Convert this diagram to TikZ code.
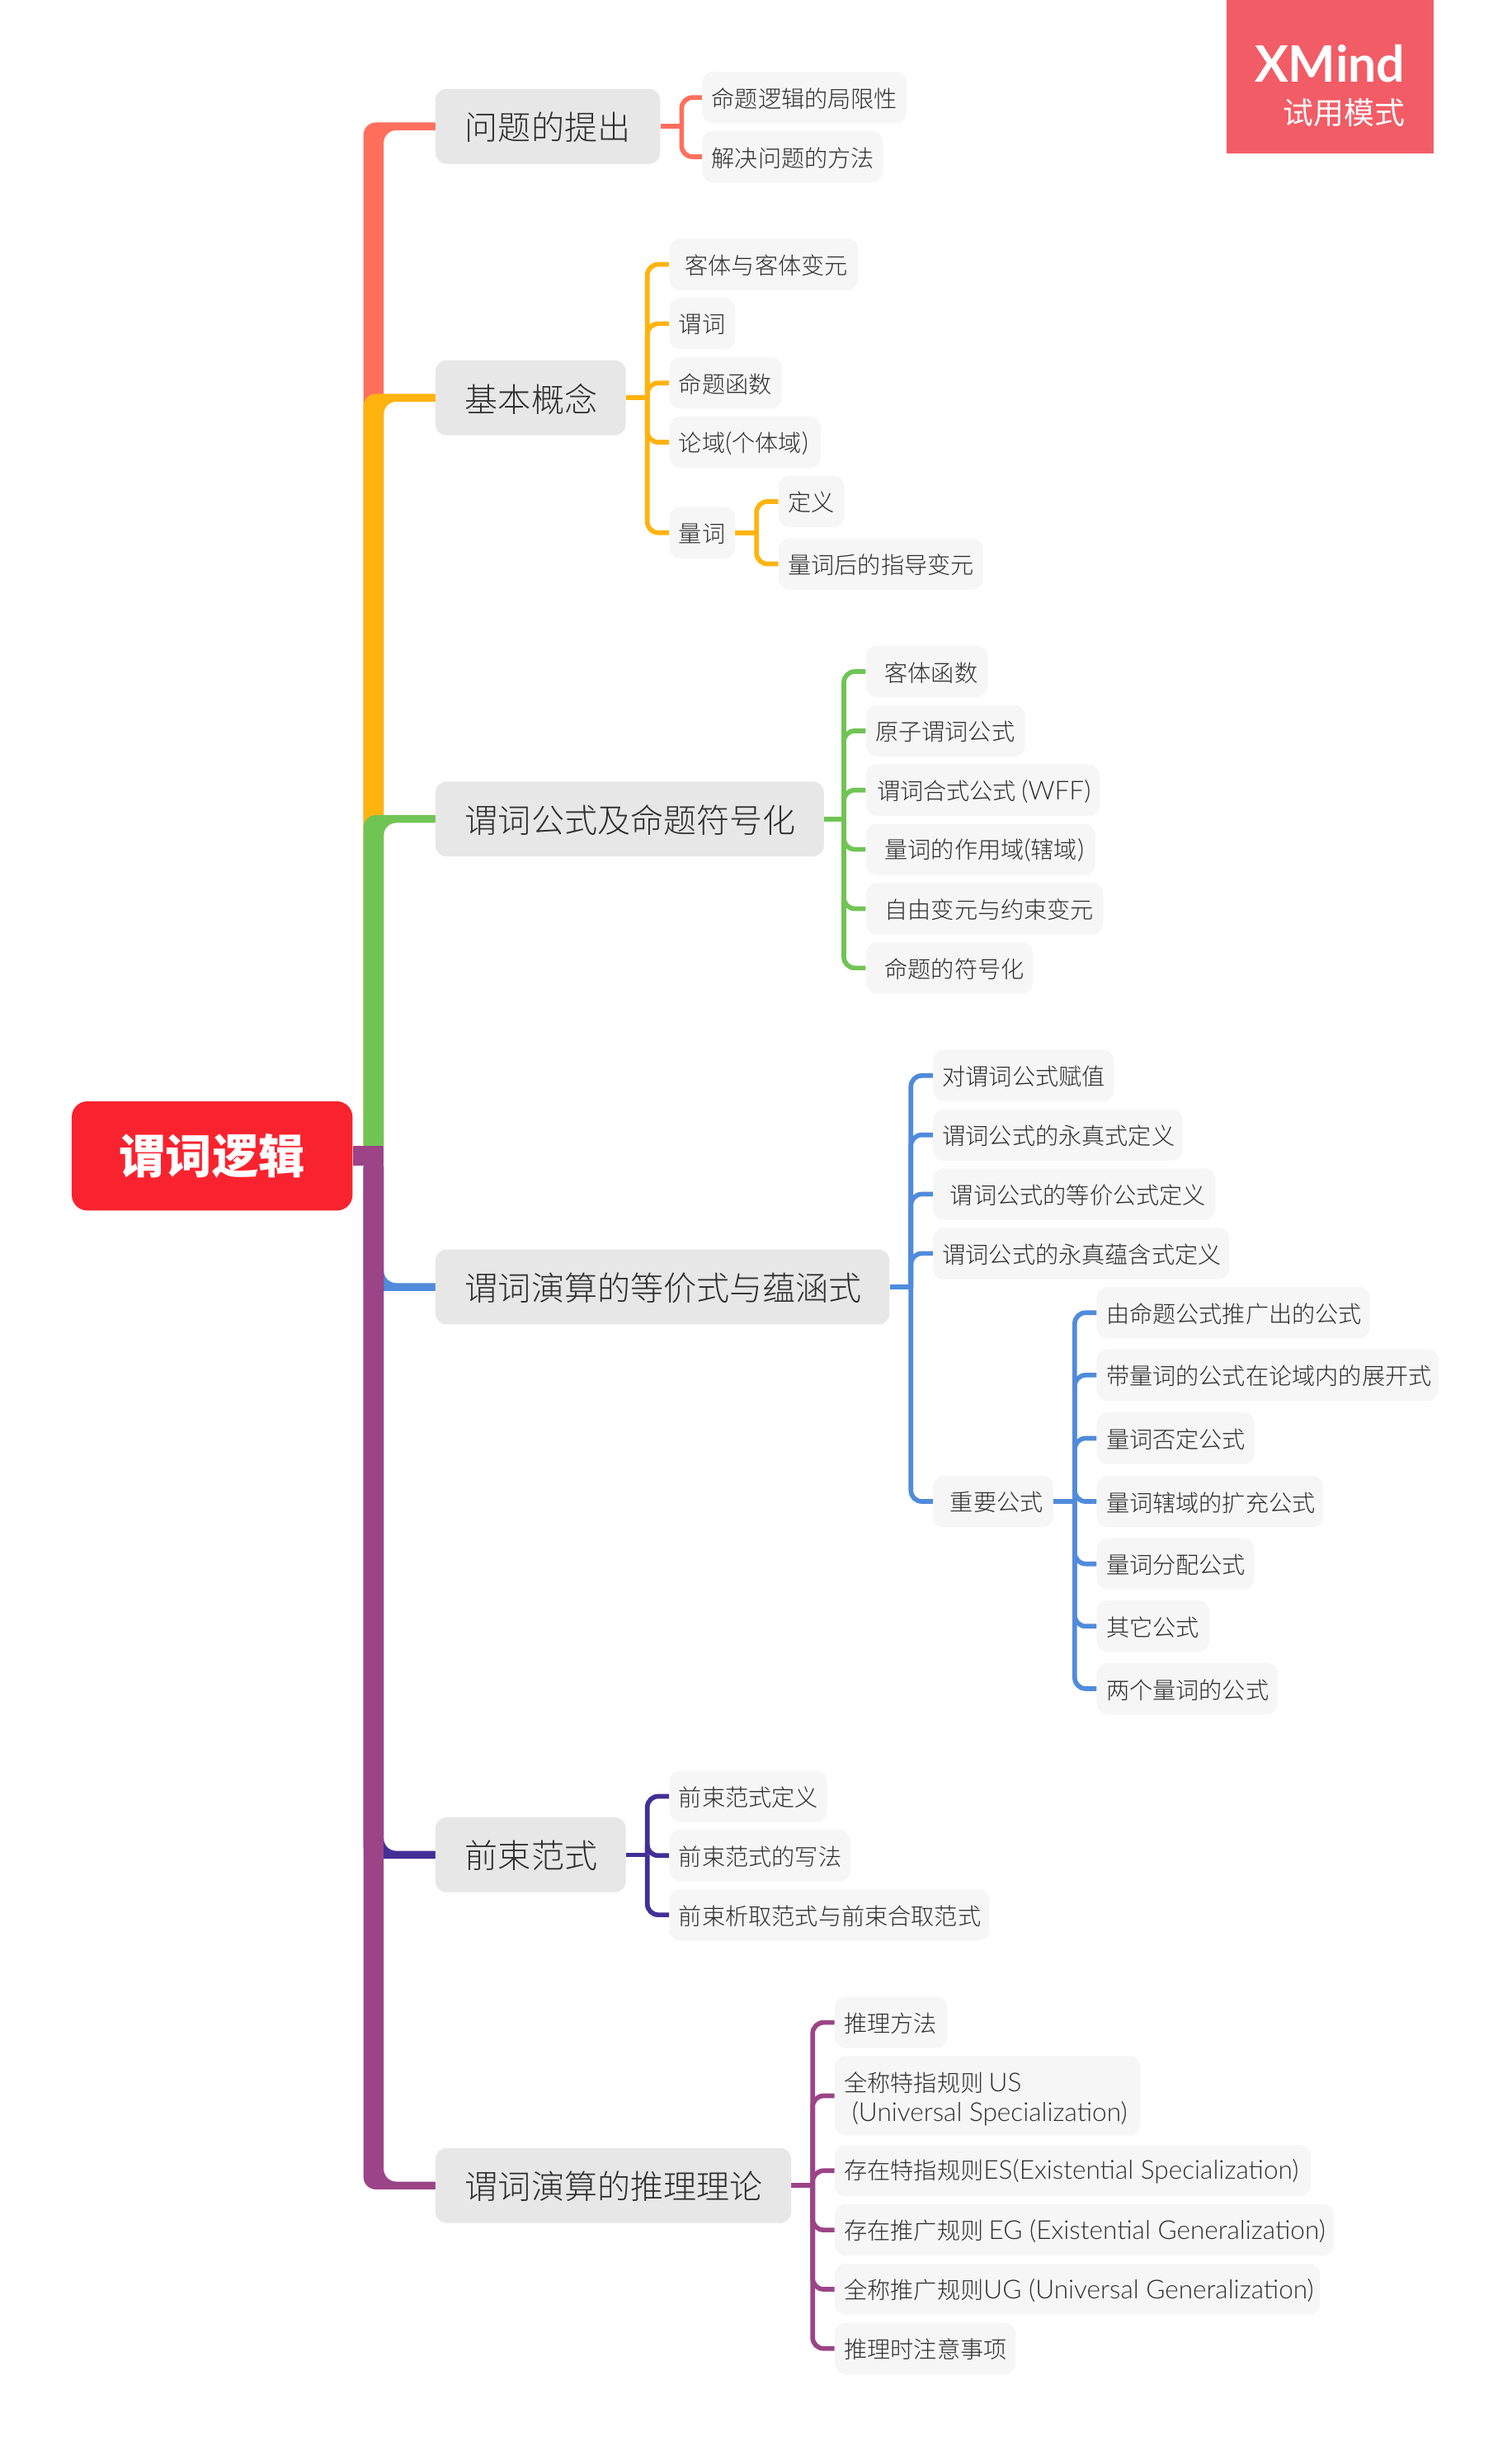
\documentclass[tikz,border=0pt]{standalone}
\usepackage{fontspec}
\setmainfont{Noto Sans CJK SC}[UprightFont=* Light,BoldFont=* Black]
\newfontfamily\cjkreg{Noto Sans CJK SC}
\newfontfamily\latf{Lato}[Scale=1.12,UprightFont=* Light]
\newfontfamily\wmf{Lato}
\newcommand\lat[1]{{\latf #1}}
\usetikzlibrary{calc,backgrounds}
\definecolor{cred}{HTML}{FF6F5C}
\definecolor{corange}{HTML}{FFB30F}
\definecolor{cgreen}{HTML}{70C454}
\definecolor{cblue}{HTML}{508BDB}
\definecolor{cindigo}{HTML}{422F96}
\definecolor{cpurple}{HTML}{9B4487}
\definecolor{ctext}{HTML}{2E2E2E}
\definecolor{cwm}{HTML}{F25C66}
\definecolor{croot}{HTML}{F9232F}
\tikzset{
 leaf/.style={fill=black!3.5,rounded corners=7pt,inner sep=0pt,minimum height=33pt,text=ctext,font=\fontsize{14.9}{19}\selectfont},
 branch/.style={fill=black!9.5,rounded corners=7pt,inner sep=0pt,minimum height=48pt,text=ctext,font=\fontsize{21.2}{26}\selectfont},
 sub/.style={line width=3pt,rounded corners=7pt},
 stub/.style={line width=3pt},
}
\newcommand\boxnode[7][leaf]{\node[#1,anchor=west] (#2) at (#3,#5) {\makebox[\dimexpr#4pt-#3pt\relax][l]{\hspace*{#6pt}\raisebox{-0.7pt}[\height][\depth]{#7}}};}
\newcommand\mainbranch[3]{\fill[#1,rounded corners=8pt] (233,741) -- ($(233,0 |- #2.west)+(0,#3)$) -- ($(#2.west)+(20,#3)$) -- ($(#2.west)+(20,{-1*(#3)})$) -- ($(246,0 |- #2.west)+(0,{-1*(#3)})$) -- (246,741) -- cycle;}
\newcommand\conns[4]{\draw[stub,#1] (#2.east) -- (#3,0 |- #2.east);\foreach \c in {#4}{\draw[sub,#1] (#3,0 |- #2.east) -- (#3,0 |- \c.west) -- (\c.west);}}
\begin{document}
\begin{tikzpicture}[x=1pt,y=-1pt]
\useasboundingbox (0,0) rectangle (969.3,1568);
% watermark
\node[fill=cwm,minimum width=133pt,minimum height=98pt,inner sep=0pt,anchor=north west] (wm) at (786,0) {};
\node[text=white,inner sep=0pt,anchor=east,font=\wmf\bfseries\fontsize{32.2}{40}\selectfont] (wmt) at (901,41) {XMind};
\node[text=white,inner sep=0pt,anchor=east,font=\cjkreg\fontsize{19.5}{24}\selectfont] (wms) at (901,72) {试用模式};
% root
\node[fill=croot,rounded corners=10pt,minimum width=180pt,minimum height=70pt,inner sep=0pt,text=white,font=\bfseries\fontsize{29.8}{36}\selectfont] (root) at (136,741) {谓词逻辑};
% branches
\boxnode[branch]{b1}{279}{423}{81}{19}{问题的提出}
\boxnode[branch]{b2}{279}{401}{255}{19}{基本概念}
\boxnode[branch]{b3}{279}{528}{525}{19}{谓词公式及命题符号化}
\boxnode[branch]{b4}{279}{570}{825}{19}{谓词演算的等价式与蕴涵式}
\boxnode[branch]{b5}{279}{401}{1189}{19}{前束范式}
\boxnode[branch]{b6}{279}{507}{1401}{19}{谓词演算的推理理论}
% leaves b1
\boxnode{a1}{450}{581}{62.5}{6}{命题逻辑的局限性}
\boxnode{a2}{450}{566}{100.5}{6}{解决问题的方法}
% leaves b2
\boxnode{c1}{429}{550}{169.5}{10}{客体与客体变元}
\boxnode{c2}{429}{471}{207.5}{6}{谓词}
\boxnode{c3}{429}{501}{245.5}{6}{命题函数}
\boxnode{c4}{429}{526}{283.5}{6}{论域\lat{(}个体域\lat{)}}
\boxnode{c5}{429}{471}{341.5}{6}{量词}
\boxnode{c6}{499}{541}{321.5}{6}{定义}
\boxnode{c7}{499}{630}{361.5}{6}{量词后的指导变元}
% leaves b3
\boxnode{d1}{555}{633}{430.5}{12}{客体函数}
\boxnode{d2}{555}{657}{468.5}{6}{原子谓词公式}
\boxnode{d3}{555}{705}{506.5}{7}{谓词合式公式 \lat{(WFF)}}
\boxnode{d4}{555}{702}{544.5}{12}{量词的作用域\lat{(}辖域\lat{)}}
\boxnode{d5}{555}{707}{582.5}{12}{自由变元与约束变元}
\boxnode{d6}{555}{662}{620.5}{12}{命题的符号化}
% leaves b4
\boxnode{e1}{598}{714}{689.5}{6}{对谓词公式赋值}
\boxnode{e2}{598}{758}{727.5}{6}{谓词公式的永真式定义}
\boxnode{e3}{598}{779}{765.5}{11}{谓词公式的等价公式定义}
\boxnode{e4}{598}{788}{803.5}{6}{谓词公式的永真蕴含式定义}
\boxnode{e5}{598}{675}{962.5}{11}{重要公式}
\boxnode{f1}{703}{878}{841.5}{6}{由命题公式推广出的公式}
\boxnode{f2}{703}{922}{881.5}{6}{带量词的公式在论域内的展开式}
\boxnode{f3}{703}{804}{922}{6}{量词否定公式}
\boxnode{f4}{703}{848}{962.5}{6}{量词辖域的扩充公式}
\boxnode{f5}{703}{804}{1002.5}{6}{量词分配公式}
\boxnode{f6}{703}{775}{1042.5}{6}{其它公式}
\boxnode{f7}{703}{819}{1082.5}{6}{两个量词的公式}
% leaves b5
\boxnode{g1}{429}{530}{1151.5}{6}{前束范式定义}
\boxnode{g2}{429}{545}{1189.5}{6}{前束范式的写法}
\boxnode{g3}{429}{634}{1227.5}{6}{前束析取范式与前束合取范式}
% leaves b6
\boxnode{h1}{535}{607}{1296.5}{6}{推理方法}
\boxnode[leaf,minimum height=51pt]{h2}{535}{731}{1343.5}{6}{\raisebox{-1.3pt}[\height][\depth]{\parbox[c]{190pt}{\baselineskip=19pt 全称特指规则 \lat{US}\\\hspace*{5pt}\lat{(Universal Specialization)}}}}
\boxnode{h3}{535}{840}{1391.5}{6}{存在特指规则\lat{ES(Existential Specialization)}}
\boxnode{h4}{535}{855}{1429.5}{6}{存在推广规则 \lat{EG (Existential Generalization)}}
\boxnode{h5}{535}{846}{1467.5}{6}{全称推广规则\lat{UG (Universal Generalization)}}
\boxnode{h6}{535}{651}{1505.5}{6}{推理时注意事项}
\begin{scope}[on background layer]
\fill[white] (0,0) rectangle (969.3,1568);
\mainbranch{cred}{b1}{-2.5}
\mainbranch{corange}{b2}{-2.5}
\mainbranch{cgreen}{b3}{-2.5}
\mainbranch{cblue}{b4}{2.5}
\mainbranch{cindigo}{b5}{2.5}
\mainbranch{cpurple}{b6}{2.5}
\fill[cpurple] (root.east |- 0,734.5) rectangle (246,747.5);
\conns{cred}{b1}{437}{a1,a2}
\conns{corange}{b2}{415}{c1,c2,c3,c4,c5}
\conns{corange}{c5}{485}{c6,c7}
\conns{cgreen}{b3}{541}{d1,d2,d3,d4,d5,d6}
\conns{cblue}{b4}{584}{e1,e2,e3,e4,e5}
\conns{cblue}{e5}{689}{f1,f2,f3,f4,f5,f6,f7}
\conns{cindigo}{b5}{415}{g1,g2,g3}
\conns{cpurple}{b6}{521}{h1,h2,h3,h4,h5,h6}
\end{scope}
\end{tikzpicture}
\end{document}
